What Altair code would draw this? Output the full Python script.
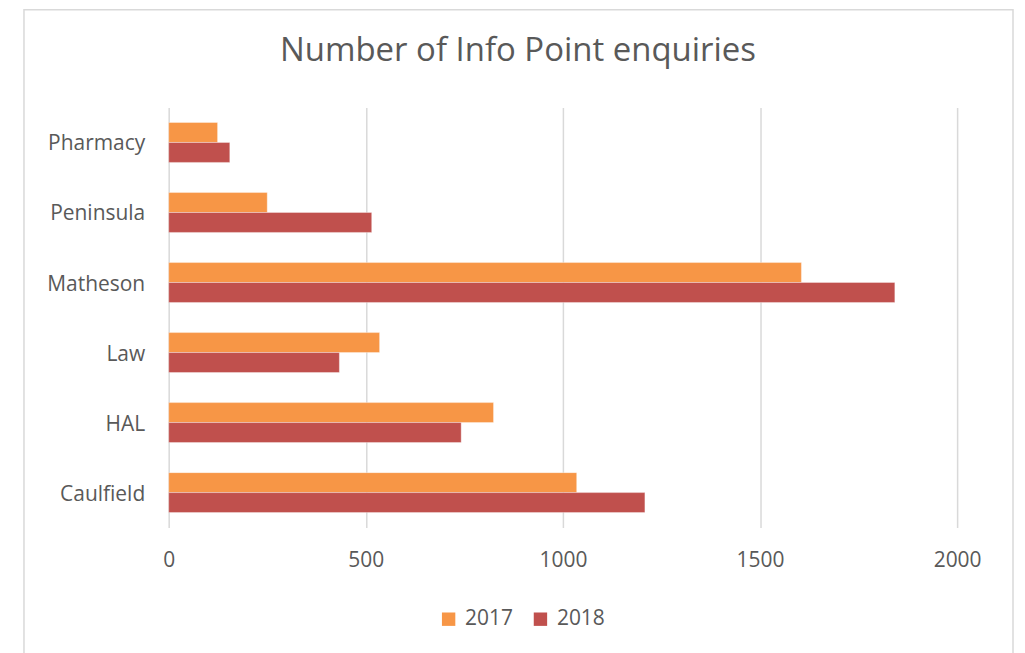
import altair as alt
import pandas as pd

title_text = "Number of Info Point enquiries"
categories = ["Pharmacy", "Peninsula", "Matheson", "Law", "HAL", "Caulfield"]
values_2017 = [124, 250, 1605, 535, 824, 1035]
values_2018 = [155, 515, 1842, 433, 742, 1208]
years = ["2017", "2018"]
colors = ["#F79646", "#C0504D"]
x_ticks = [0, 500, 1000, 1500, 2000]

rows = []
for c, a, b in zip(categories, values_2017, values_2018):
    rows.append({"site": c, "year": "2017", "value": a})
    rows.append({"site": c, "year": "2018", "value": b})
df = pd.DataFrame(rows)

FONT = "Open Sans"
TXT = "#595959"

bars = alt.Chart(df).mark_bar(stroke="#ffffff", strokeOpacity=0.35, strokeWidth=1).encode(
    x=alt.X("value:Q", scale=alt.Scale(domain=[0, 2000], nice=False),
            axis=alt.Axis(values=x_ticks, format="d", title=None, domain=False, ticks=False,
                          labelFlush=False, labelPadding=22, labelFontSize=21,
                          labelColor=TXT, labelFont=FONT,
                          gridColor="#D9D9D9", gridWidth=1.5)),
    y=alt.Y("site:N", sort=categories,
            scale=alt.Scale(paddingInner=0.43, paddingOuter=0.215),
            axis=alt.Axis(title=None, domain=False, ticks=False, grid=False,
                          labelPadding=24, labelOffset=2, labelFontSize=21,
                          labelColor=TXT, labelFont=FONT)),
    yOffset=alt.YOffset("year:N", sort=years),
    color=alt.Color("year:N", scale=alt.Scale(domain=years, range=colors),
                    legend=alt.Legend(title=None, orient="none", direction="horizontal",
                                      legendX=270, legendY=502, symbolType="square",
                                      symbolSize=180, symbolStrokeWidth=0,
                                      labelFontSize=21, labelColor=TXT, labelFont=FONT,
                                      columnPadding=16, labelOffset=6)),
)

frame = alt.Chart(pd.DataFrame({"k": [0]})).mark_rect(
    fill="transparent", stroke="#D9D9D9", strokeWidth=1.5, clip=False
).encode(x=alt.value(-145), x2=alt.value(846), y=alt.value(-98), y2=alt.value(570))

title = alt.Chart(pd.DataFrame({"t": [title_text]})).mark_text(
    font=FONT, fontSize=33, color=TXT, align="center", baseline="middle"
).encode(text="t:N", x=alt.value(350), y=alt.value(-57))

chart = alt.layer(frame, title, bars).properties(
    width=790, height=421,
    padding={"left": 161, "top": 99, "right": 60, "bottom": 135},
    autosize="none",
).configure_view(stroke=None)

chart.save("out.html", embed_options={"renderer": "svg", "actions": False})
